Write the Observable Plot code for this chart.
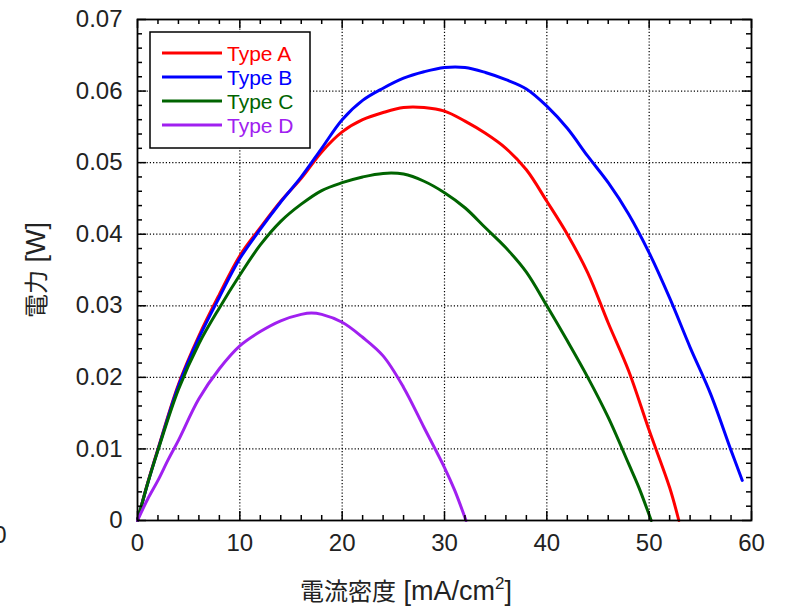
<!DOCTYPE html>
<html><head><meta charset="utf-8">
<script src="https://cdn.jsdelivr.net/npm/d3@7"></script>
<script src="https://cdn.jsdelivr.net/npm/@observablehq/plot@0.6"></script>
<style>
body{margin:0;background:#fff;}
#chart{width:795px;height:607px;overflow:hidden;}
</style></head><body><div id="chart"></div>
<script>
const seriesNames = ["Type A","Type B","Type C","Type D"];
const seriesColors = ["#ff0000","#0000ff","#006400","#a020f0"];

const xA = [0,1,2,4,6,8,10,12,14,16,18,20,22,24,26,28,30,32,34,36,38,40,42,44,46,48,50,52,52.9];
const yA = [0,0.0053,0.0100,0.0190,0.0258,0.0316,0.0370,0.0409,0.0446,0.0478,0.0515,0.0543,0.0560,0.0570,0.0577,0.0577,0.0572,0.0558,0.0541,0.0520,0.0490,0.0446,0.0400,0.0346,0.0276,0.0209,0.0126,0.0046,0];
const xB = [0,1,2,4,6,8,10,12,14,16,18,20,22,24,26,28,30,32,34,36,38,40,42,44,46,48,50,52,54,56,58,59.1];
const yB = [0,0.0052,0.0099,0.0188,0.0255,0.0312,0.0366,0.0407,0.0445,0.0480,0.0520,0.0560,0.0587,0.0604,0.0618,0.0627,0.0633,0.0633,0.0626,0.0616,0.0603,0.0579,0.0548,0.0509,0.0472,0.0428,0.0374,0.0311,0.0242,0.0177,0.0098,0.0056];
const xC = [0,1,2,4,6,8,10,12,14,16,18,20,22,24,26,28,30,32,34,36,38,40,42,44,46,48,49,50.2];
const yC = [0,0.0052,0.0098,0.0183,0.0247,0.0297,0.0343,0.0385,0.0418,0.0442,0.0461,0.0472,0.0480,0.0485,0.0484,0.0474,0.0458,0.0437,0.0409,0.0381,0.0347,0.0300,0.0251,0.0200,0.0144,0.0079,0.0046,0];
const xD = [0,1,2,3,4,6,8,10,12,14,16,17,18,20,22,24,26,28,30,31,32.1];
const yD = [0,0.0030,0.0056,0.0085,0.0112,0.0170,0.0212,0.0244,0.0264,0.0279,0.0288,0.0290,0.0288,0.0277,0.0256,0.0230,0.0186,0.0130,0.0074,0.0042,0];

const xTicks = [0,10,20,30,40,50,60];
const yTicks = [0,0.01,0.02,0.03,0.04,0.05,0.06,0.07];
const xMinor = d3.range(0,61,2).filter(v => v % 10 !== 0);
const yMinor = d3.range(0,71,2).filter(v => v % 10 !== 0).map(v => v/1000);

const xLabelCJK = "電流密度";
const xLabelUnit = " [mA/cm";
const xLabelSup = "2";
const yLabelCJK = "電力";
const yLabelUnit = " [W]";

const xs = [xA,xB,xC,xD], ys = [yA,yB,yC,yD];
const data = seriesNames.flatMap((s,i) => xs[i].map((x,j) => ({series:s, x, y: ys[i][j]})));

const font = "'Liberation Sans', Arial, 'Noto Sans CJK JP', sans-serif";
const ML=137, MR=44, MT=19, MB=87, W=795, H=607;
const xMaj = 9/10.23, xMin = 5/10.23, yMaj = 9/7157, yMin = 5/7157;

const plot = Plot.plot({
  width: W, height: H,
  marginLeft: ML, marginRight: MR, marginTop: MT, marginBottom: MB,
  style: {fontFamily: font, background: "white", overflow: "visible"},
  x: {domain: [0,60], label: null},
  y: {domain: [0,0.07], label: null},
  color: {domain: seriesNames, range: seriesColors},
  marks: [
    Plot.ruleX(xTicks.slice(1,-1), {x: d=>d, stroke: "#000", strokeWidth: 1.2, strokeDasharray: "1.2,2"}),
    Plot.ruleY(yTicks.slice(1,-1), {y: d=>d, stroke: "#000", strokeWidth: 1.2, strokeDasharray: "1.2,2"}),
    Plot.line(data, {x: "x", y: "y", z: "series", stroke: "series", strokeWidth: 3, curve: "catmull-rom"}),
    Plot.ruleX(xTicks, {x: d=>d, y1: 0, y2: yMaj, stroke: "#000", strokeWidth: 1.5}),
    Plot.ruleX(xTicks, {x: d=>d, y1: 0.07, y2: 0.07 - yMaj, stroke: "#000", strokeWidth: 1.5}),
    Plot.ruleX(xMinor, {x: d=>d, y1: 0, y2: yMin, stroke: "#000", strokeWidth: 1.5}),
    Plot.ruleX(xMinor, {x: d=>d, y1: 0.07, y2: 0.07 - yMin, stroke: "#000", strokeWidth: 1.5}),
    Plot.ruleY(yTicks, {y: d=>d, x1: 0, x2: xMaj, stroke: "#000", strokeWidth: 1.5}),
    Plot.ruleY(yTicks, {y: d=>d, x1: 60, x2: 60 - xMaj, stroke: "#000", strokeWidth: 1.5}),
    Plot.ruleY(yMinor, {y: d=>d, x1: 0, x2: xMin, stroke: "#000", strokeWidth: 1.5}),
    Plot.ruleY(yMinor, {y: d=>d, x1: 60, x2: 60 - xMin, stroke: "#000", strokeWidth: 1.5}),
    Plot.frame({stroke: "#000", strokeWidth: 1.8}),
    Plot.axisX({ticks: xTicks, tickSize: 0, tickPadding: 13, fontSize: 24, label: null, tickFormat: d => String(d), fill: "#222"}),
    Plot.axisY({ticks: yTicks, tickSize: 0, tickPadding: 15, fontSize: 24, label: null, tickFormat: d => d === 0 ? "0" : d.toFixed(2), fill: "#222"})
  ]
});

const svg = d3.select(plot);
const lg = svg.append("g").attr("text-anchor","start");
lg.append("rect").attr("x",150).attr("y",32).attr("width",160).attr("height",116)
  .attr("fill","white").attr("stroke","#000").attr("stroke-width",1.5);
seriesNames.forEach((s,i) => {
  const cy = 53 + i*24;
  lg.append("line").attr("x1",162).attr("x2",222).attr("y1",cy).attr("y2",cy)
    .attr("stroke",seriesColors[i]).attr("stroke-width",3);
  lg.append("text").attr("x",227).attr("y",cy+7.5).attr("fill",seriesColors[i])
    .attr("text-anchor","start").attr("font-size",21).attr("font-family",font).text(s);
});
const xt = svg.append("text").attr("x",406).attr("y",600).attr("text-anchor","middle")
  .attr("font-size",24).attr("font-family",font).attr("fill","#222");
xt.append("tspan").text(xLabelCJK);
xt.append("tspan").attr("font-size",27).text(xLabelUnit);
xt.append("tspan").attr("dy",-11).attr("font-size",17).text(xLabelSup);
xt.append("tspan").attr("dy",11).attr("font-size",27).text("]");
const yt = svg.append("text").attr("transform","translate(45,270) rotate(-90)").attr("text-anchor","middle")
  .attr("font-size",24).attr("font-family",font).attr("fill","#222");
yt.append("tspan").text(yLabelCJK);
yt.append("tspan").attr("font-size",27).text(yLabelUnit);
svg.append("text").attr("x",0).attr("y",543).attr("text-anchor","middle")
  .attr("font-size",24).attr("font-family",font).attr("fill","#222").text("0");

document.getElementById("chart").appendChild(plot);
</script></body></html>
